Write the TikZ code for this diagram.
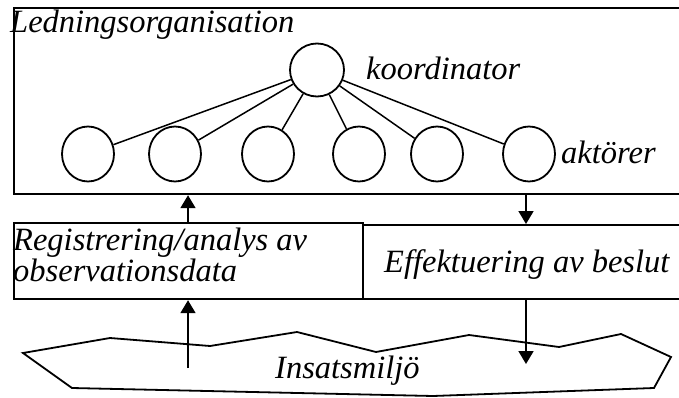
\documentclass[tikz,border=0pt]{standalone}
\usepackage{fontspec}
\setmainfont{Liberation Serif}[ItalicFont=Liberation Serif Italic]
\usetikzlibrary{shapes.geometric,arrows.meta}
\begin{document}
\begin{tikzpicture}[x=1pt,y=-1pt,
  every node/.style={font=\fontsize{32.5}{35}\selectfont\itshape},
  frame/.style={draw,line width=2.2pt,inner sep=0pt,anchor=north west},
  unit/.style={draw,ellipse,line width=1.8pt,inner sep=0pt,minimum width=52pt,minimum height=55pt},
  tie/.style={line width=1.5pt},
  flow/.style={line width=1.8pt,-{Triangle[width=15pt,length=13pt]}},
  label/.style={inner sep=0pt,anchor=base west}]
\useasboundingbox (0,0) rectangle (679,398);
\clip (0,0) rectangle (679,398);

% organisation frame and the two process boxes
\node[frame,minimum width=690pt,minimum height=186pt] (org) at (13,7) {};
\node[frame,minimum width=349pt,minimum height=76pt] (reg) at (13,222) {};
\node[frame,minimum width=340pt,minimum height=74pt] (eff) at (362,224) {};

% coordinator and actors
\node[unit,minimum width=54pt,minimum height=53pt] (k) at (317,70) {};
\foreach \i/\x in {1/88,2/175,3/268,4/359,5/437,6/529}{
  \node[unit] (a\i) at (\x,154) {};
  \draw[tie] (k) -- (a\i);
}

% texts
\node[label] (t1) at (10,33) {Ledningsorganisation};
\node[label] (t2) at (366,80) {koordinator};
\node[label] (t3) at (561,164) {aktörer};
\node[label] (t4) at (13,250) {Registrering/analys av};
\node[label] (t5) at (13,281) {observationsdata};
\node[label] (t6) at (384,272) {Effektuering av beslut};

% operational environment
\draw[line width=1.8pt,line join=miter]
  (23,353) -- (110,338) -- (210,346) -- (297,332) -- (376,352) -- (469,335)
  -- (559,347) -- (621,334) -- (671,357) -- (654,388) -- (433,396) -- (72,388) -- cycle;
\node[label] (t7) at (275,378) {Insatsmiljö};

% information flows
\coordinate (upx) at (188,0);
\coordinate (downx) at (526,0);
\coordinate (src) at (188,368);
\coordinate (dst) at (526,364);
\draw[flow] (reg.north -| upx) -- (org.south -| upx);
\draw[flow] (org.south -| downx) -- (eff.north -| downx);
\draw[flow] (src) -- (reg.south -| upx);
\draw[flow] (eff.south -| downx) -- (dst);
\end{tikzpicture}
\end{document}
